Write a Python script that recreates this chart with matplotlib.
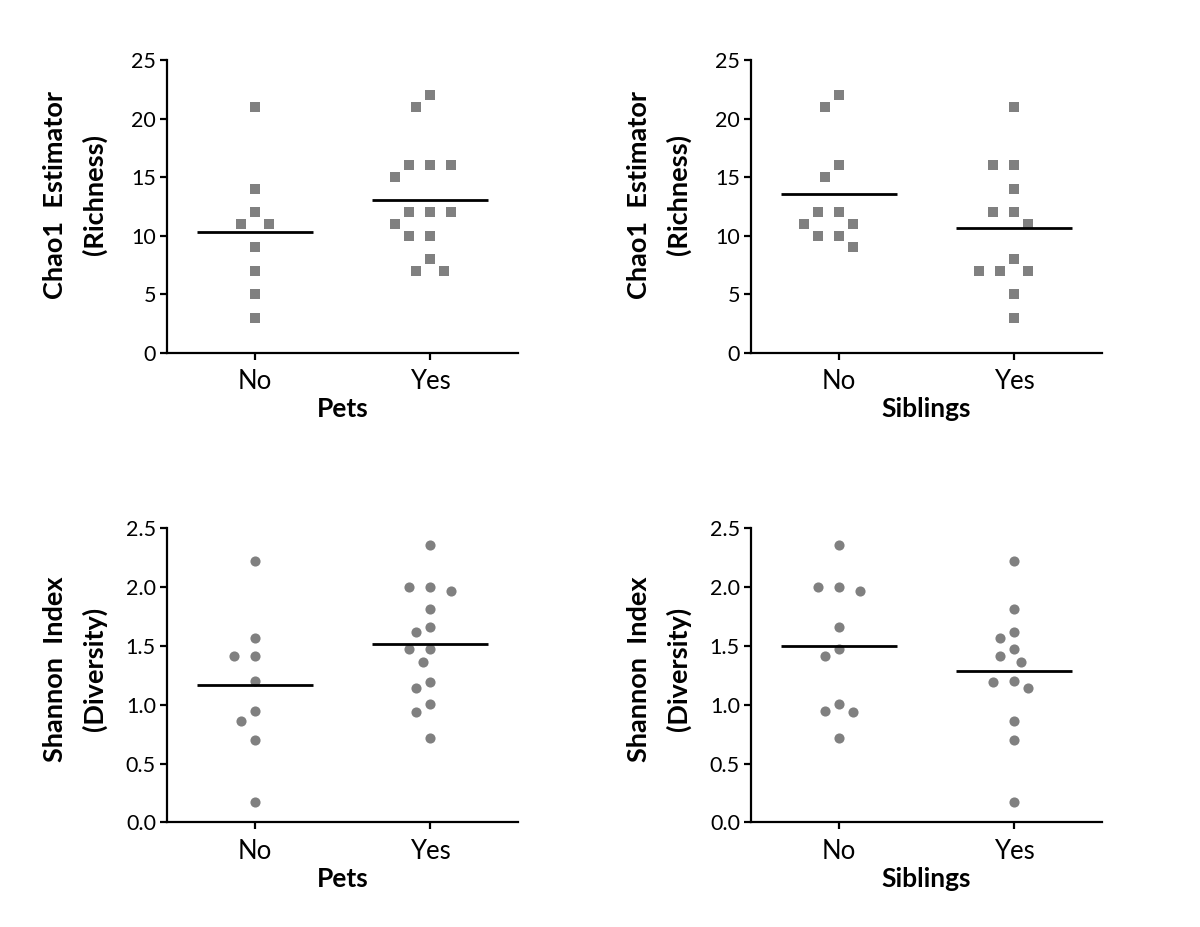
import numpy as np
import matplotlib
matplotlib.use("Agg")
import matplotlib.pyplot as plt

plt.rcParams['font.family'] = ['Lato', 'DejaVu Sans']

groups = ["No", "Yes"]

# Chao1 richness
chao_pets_no = [21, 14, 12, 11, 11, 9, 7, 5, 3]
chao_pets_yes = [22, 21, 16, 16, 16, 15, 12, 12, 12, 11, 10, 10, 8, 7, 7]
chao_sib_no = [22, 21, 16, 15, 12, 12, 11, 11, 10, 10, 9]
chao_sib_yes = [21, 16, 16, 14, 12, 12, 11, 8, 7, 7, 7, 5, 3]

# Shannon diversity
shan_pets_no = [2.22, 1.57, 1.41, 1.41, 1.20, 0.95, 0.86, 0.70, 0.17]
shan_pets_yes = [2.36, 2.00, 2.00, 1.97, 1.81, 1.66, 1.62, 1.47, 1.47,
                 1.36, 1.19, 1.14, 1.01, 0.94, 0.72]
shan_sib_no = [2.36, 2.00, 2.00, 1.97, 1.66, 1.47, 1.41, 1.01, 0.95, 0.94, 0.72]
shan_sib_yes = [2.22, 1.81, 1.62, 1.57, 1.47, 1.41, 1.36, 1.20, 1.19,
                1.14, 0.86, 0.70, 0.17]

chao_ticks = [0, 5, 10, 15, 20, 25]
shan_ticks = [0.0, 0.5, 1.0, 1.5, 2.0, 2.5]

GRAY = "#808080"


def swarm_offsets(vals, px_x, px_y, step=7.0, dist=14.5):
    # simple beeswarm: place each point at the nearest free slot
    placed = []
    offs = []
    for v in vals:
        k_list = [0]
        for k in range(1, 30):
            k_list += [-k, k]
        for k in k_list:
            ox = k * step
            ok = True
            for (px, py) in placed:
                if np.hypot(ox - px, (v - py) * px_y) < dist:
                    ok = False
                    break
            if ok:
                break
        placed.append((ox, v))
        offs.append(ox / px_x)
    return np.array(offs)


def panel(fig, rect, data, ticks, ylabel, xlabel, marker, msize, fmt, label_y):
    ax = fig.add_axes(rect)
    ax.set_xlim(-0.5, 1.5)
    ax.set_ylim(ticks[0], ticks[-1])
    bb = ax.get_position()
    px_x = bb.width * fig.get_figwidth() * fig.dpi / 2.0
    px_y = bb.height * fig.get_figheight() * fig.dpi / (ticks[-1] - ticks[0])
    for i, vals in enumerate(data):
        off = swarm_offsets(vals, px_x, px_y)
        ax.plot(i + off, vals, linestyle="none", marker=marker, markersize=msize,
                color=GRAY, markeredgewidth=0, clip_on=False)
        m = np.mean(vals)
        ax.plot([i - 0.33, i + 0.33], [m, m], color="black", lw=2.0,
                solid_capstyle="butt")
    ax.set_xticks([0, 1])
    ax.set_xticklabels(groups)
    ax.set_yticks(ticks)
    ax.set_yticklabels([fmt.format(t) for t in ticks])
    for s in ["top", "right"]:
        ax.spines[s].set_visible(False)
    for s in ["left", "bottom"]:
        ax.spines[s].set_linewidth(1.6)
    ax.tick_params(width=1.6, length=5)
    ax.tick_params(axis="x", labelsize=18.5, pad=7)
    ax.tick_params(axis="y", labelsize=15.5, pad=3)
    ax.set_xlabel(xlabel, fontsize=19, fontweight="bold", labelpad=2)
    ax.set_ylabel(ylabel, fontsize=19.5, fontweight="bold", ha="center",
                  va="center", linespacing=1.68)
    ax.yaxis.set_label_coords(-0.263, label_y)
    return ax


fig = plt.figure(figsize=(12, 9.27), dpi=100)
W, H = 1200.0, 927.0
w = 351 / W
h_top = (352.7 - 60) / H
h_bot = (822.3 - 528.3) / H

panel(fig, [167 / W, 1 - 352.7 / H, w, h_top], [chao_pets_no, chao_pets_yes],
      chao_ticks, "Chao1  Estimator\n(Richness)", "Pets", "s", 6.8, "{:d}", 0.54)
panel(fig, [751 / W, 1 - 352.7 / H, w, h_top], [chao_sib_no, chao_sib_yes],
      chao_ticks, "Chao1  Estimator\n(Richness)", "Siblings", "s", 6.8, "{:d}", 0.54)
panel(fig, [167 / W, 1 - 822.3 / H, w, h_bot], [shan_pets_no, shan_pets_yes],
      shan_ticks, "Shannon  Index\n(Diversity)", "Pets", "o", 7.3, "{:.1f}", 0.52)
panel(fig, [751 / W, 1 - 822.3 / H, w, h_bot], [shan_sib_no, shan_sib_yes],
      shan_ticks, "Shannon  Index\n(Diversity)", "Siblings", "o", 7.3, "{:.1f}", 0.52)

fig.savefig("out.png", dpi=100)
